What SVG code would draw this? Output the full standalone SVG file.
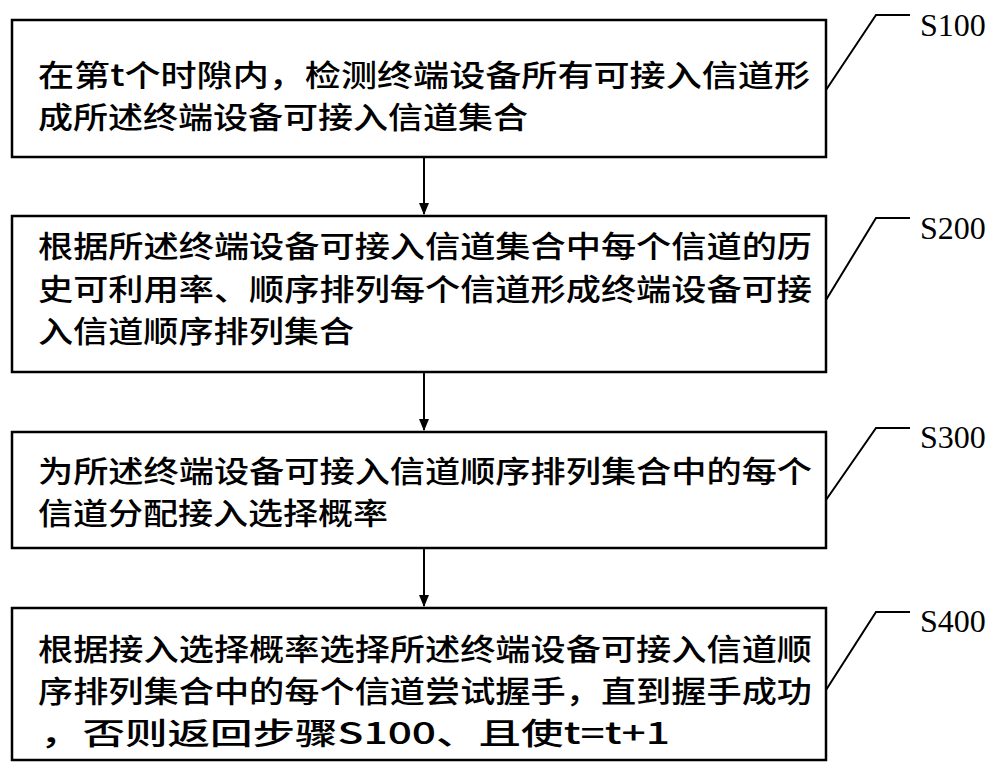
<svg xmlns="http://www.w3.org/2000/svg" width="1000" height="773" viewBox="0 0 1000 773">
<defs><marker id="ah" markerWidth="12" markerHeight="22" refX="11" refY="6" orient="auto" markerUnits="userSpaceOnUse" viewBox="0 0 12 12"><path d="M0,1 L12,6 L0,11 Z" fill="#000"/></marker></defs>
<style>
.box{fill:#fff;stroke:#000;stroke-width:2.5}
.t{font-family:"Noto Sans CJK SC","Noto Sans",sans-serif;font-size:30px;font-weight:500;fill:#000}
.lab{font-family:"Liberation Serif",serif;font-size:32px;fill:#000}
.ln{fill:none;stroke:#000;stroke-width:2}
</style>
<rect width="1000" height="773" fill="#fff"/>
<g id="n1"><rect class="box" x="12" y="20" width="814" height="137"/>
<text class="t" x="38" y="86" textLength="772" lengthAdjust="spacingAndGlyphs">在第t个时隙内，检测终端设备所有可接入信道形</text>
<text class="t" x="38" y="128" textLength="490" lengthAdjust="spacingAndGlyphs">成所述终端设备可接入信道集合</text></g>
<g id="n2"><rect class="box" x="12" y="216" width="814" height="156"/>
<text class="t" x="38" y="257" textLength="774" lengthAdjust="spacingAndGlyphs">根据所述终端设备可接入信道集合中每个信道的历</text>
<text class="t" x="38" y="300" textLength="774" lengthAdjust="spacingAndGlyphs">史可利用率、顺序排列每个信道形成终端设备可接</text>
<text class="t" x="38" y="342" textLength="316" lengthAdjust="spacingAndGlyphs">入信道顺序排列集合</text></g>
<g id="n3"><rect class="box" x="12" y="432" width="814" height="116"/>
<text class="t" x="38" y="482" textLength="774" lengthAdjust="spacingAndGlyphs">为所述终端设备可接入信道顺序排列集合中的每个</text>
<text class="t" x="38" y="524" textLength="350" lengthAdjust="spacingAndGlyphs">信道分配接入选择概率</text></g>
<g id="n4"><rect class="box" x="12" y="608" width="814" height="152"/>
<text class="t" x="38" y="660" textLength="774" lengthAdjust="spacingAndGlyphs">根据接入选择概率选择所述终端设备可接入信道顺</text>
<text class="t" x="38" y="702" textLength="774" lengthAdjust="spacingAndGlyphs">序排列集合中的每个信道尝试握手，直到握手成功</text>
<text class="t" x="40" y="744" textLength="630" lengthAdjust="spacingAndGlyphs">，否则返回步骤S100、且使t=t+1</text></g>
<g id="labels">
<text class="lab" x="920" y="36">S100</text>
<text class="lab" x="920" y="239">S200</text>
<text class="lab" x="920" y="448">S300</text>
<text class="lab" x="920" y="632">S400</text>
</g>
<g id="connectors">
<line class="ln" x1="424" y1="157" x2="424" y2="214" marker-end="url(#ah)"/>
<line class="ln" x1="424" y1="372" x2="424" y2="430" marker-end="url(#ah)"/>
<line class="ln" x1="424" y1="548" x2="424" y2="606" marker-end="url(#ah)"/>
<polyline class="ln" points="826,90 876,15 910,15"/>
<polyline class="ln" points="826,300 876,218 910,218"/>
<polyline class="ln" points="826,500 876,428 910,428"/>
<polyline class="ln" points="826,690 876,612 910,612"/>
</g>
</svg>
